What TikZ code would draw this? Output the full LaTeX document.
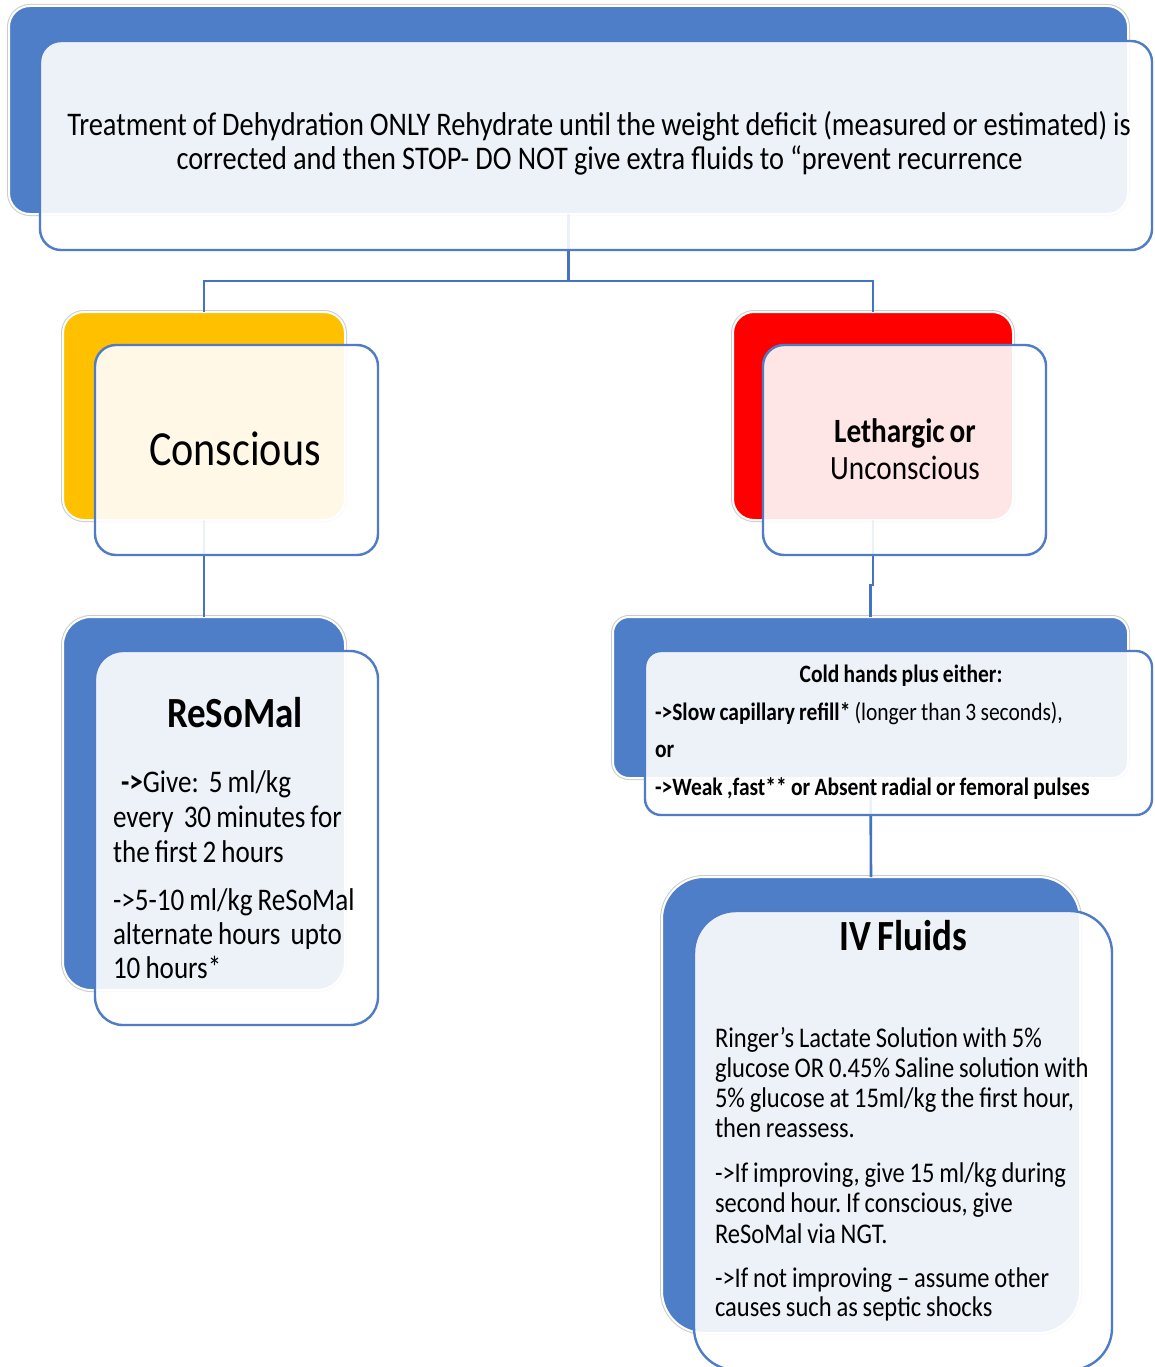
\documentclass[tikz,border=0pt]{standalone}
\usepackage{fontspec}
\setmainfont{Carlito}[FakeStretch=0.86]
\newcommand\mysp[1]{\spaceskip=#1em plus 0.05em minus 0.03em\relax}
\frenchspacing
\definecolor{acc}{RGB}{79,124,198}
\definecolor{lineblue}{RGB}{68,114,196}
\definecolor{backblue}{RGB}{79,126,200}
\definecolor{gold}{RGB}{255,192,0}
\definecolor{hotred}{RGB}{255,0,0}
\begin{document}
\begin{tikzpicture}[x=1pt,y=-1pt,
  back/.style={rectangle, inner sep=0pt, outer sep=0pt, draw=white, line width=2pt,
               preaction={draw=black!20, line width=4pt}},
  front/.style={rectangle, inner sep=0pt, outer sep=0pt, draw=acc, line width=2.4pt,
               fill=white, fill opacity=0.9},
  conn/.style={draw=lineblue, line width=2.6pt},
  txt/.style={inner sep=0pt, outer sep=0pt, anchor=base, text=black},
  para/.style={inner sep=0pt, outer sep=0pt, anchor=base west, text=black, text width=540pt, align=left}]
\useasboundingbox (0,0) rectangle (1154,1367);
\fill[white] (0,0) rectangle (1154,1367);
% back shapes
\node[back, fill=backblue, rounded corners=21pt, minimum width=1119pt, minimum height=208pt] (topB) at (568.5,110) {};
\node[back, fill=gold, rounded corners=21pt, minimum width=282pt, minimum height=208pt] (conB) at (204,416) {};
\node[back, fill=hotred, rounded corners=21pt, minimum width=280pt, minimum height=208pt] (letB) at (873,416) {};
\node[back, fill=backblue, rounded corners=28pt, minimum width=282pt, minimum height=373pt] (resB) at (204,803.5) {};
\node[back, fill=backblue, rounded corners=16pt, minimum width=515pt, minimum height=161pt] (coldB) at (870.5,697.5) {};
\node[back, fill=backblue, rounded corners=42pt, minimum width=418pt, minimum height=456pt] (ivB) at (871,1105) {};
% connectors
\draw[conn] (topB.south) -- ++(0,67) -| (conB.north);
\draw[conn] (topB.south) -- ++(0,67) -| (letB.north);
\draw[conn] (conB.south) -- (resB.north);
\draw[conn] (letB.south) -- ++(0,65) -| (coldB.north);
\draw[conn] (coldB.south) -- (ivB.north);
% front shapes
\node[front, rounded corners=21pt, minimum width=1112pt, minimum height=209pt] (topF) at (596,145.5) {};
\node[front, rounded corners=21pt, minimum width=283pt, minimum height=210pt] (conF) at (236.5,450) {};
\node[front, rounded corners=21pt, minimum width=283pt, minimum height=210pt] (letF) at (904.5,450) {};
\node[front, rounded corners=28pt, minimum width=283pt, minimum height=374pt] (resF) at (236.5,838) {};
\node[front, rounded corners=16pt, minimum width=507pt, minimum height=164pt] (coldF) at (898.5,733) {};
\node[front, rounded corners=42pt, minimum width=418pt, minimum height=459pt] (ivF) at (903,1140.5) {};
% texts
\node[txt, font=\fontsize{33}{34}\selectfont] (toptext1) at (599,136)
  {\mysp{0.18}Treatment of Dehydration ONLY Rehydrate until the weight deficit (measured or estimated) is};
\node[txt, font=\fontsize{33}{34}\selectfont] (toptext2) at (599.5,170)
  {\mysp{0.185}corrected and then STOP- DO NOT give extra fluids to “prevent recurrence};
\node[txt, font=\fontsize{49}{50}\selectfont] (context) at (235,465) {Conscious};
\node[txt, font=\fontsize{34}{37}\selectfont\bfseries] (lettext1) at (905,442) {\mysp{0.15}Lethargic or};
\node[txt, font=\fontsize{34}{37}\selectfont] (lettext2) at (905,479) {Unconscious};
\node[txt, font=\fontsize{43}{44}\selectfont\bfseries] (restitle) at (235,727) {ReSoMal};
\node[para, font=\fontsize{31.5}{35}\selectfont] (resbody1) at (113,792)
  {\mysp{0.16}\hspace*{8pt}\textbf{->}Give:\ \ 5 ml/kg\\every\ \ 30 minutes for\\the first 2 hours};
\node[para, font=\fontsize{31.5}{34}\selectfont] (resbody2) at (113,910)
  {\mysp{0.16}->5-10 ml/kg ReSoMal\\alternate hours\ \ upto\\10 hours*};
\node[txt, font=\fontsize{25}{26}\selectfont\bfseries] (cold1) at (901,682) {\mysp{0.17}Cold hands plus either:};
\node[para, font=\fontsize{25}{26}\selectfont\bfseries] (cold2) at (655,720) {\mysp{0.17}->Slow capillary refill*\mdseries{} (longer than 3 seconds),};
\node[para, font=\fontsize{25}{26}\selectfont\bfseries] (cold3) at (655,757) {or};
\node[para, font=\fontsize{25}{26}\selectfont\bfseries] (cold4) at (655,795) {\mysp{0.17}->Weak ,fast** or Absent radial or femoral pulses};
\node[txt, font=\fontsize{43}{44}\selectfont\bfseries] (ivtitle) at (903,950) {\mysp{0.15}IV Fluids};
\node[para, font=\fontsize{28.5}{30.3}\selectfont] (ivbody1) at (715,1047)
  {\mysp{0.17}Ringer’s Lactate Solution with 5\%\\glucose OR 0.45\% Saline solution with\\5\% glucose at 15ml/kg the first hour,\\then reassess.};
\node[para, font=\fontsize{28.5}{30.5}\selectfont] (ivbody2) at (715,1182)
  {\mysp{0.17}->If improving, give 15 ml/kg during\\second hour. If conscious, give\\ReSoMal via NGT.};
\node[para, font=\fontsize{28.5}{29}\selectfont] (ivbody3) at (715,1287)
  {\mysp{0.17}->If not improving – assume other\\causes such as septic shocks};
\end{tikzpicture}
\end{document}
